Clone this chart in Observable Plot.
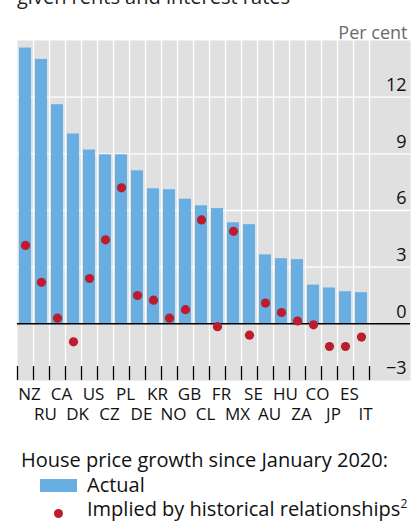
<!DOCTYPE html>
<html>
<head>
<meta charset="utf-8">
<script src="https://cdn.jsdelivr.net/npm/d3@7"></script>
<script src="https://cdn.jsdelivr.net/npm/@observablehq/plot@0.6"></script>
<style>
  html, body { margin: 0; padding: 0; background: #fff; }
  body { width: 412px; height: 523px; overflow: hidden; position: relative; font-family: "Open Sans", "Noto Sans", sans-serif; color: #111; }
  #title { position: absolute; left: 17px; top: -15px; font-size: 20px; line-height: 24px; white-space: nowrap; color: #222; }
  #chart { position: absolute; left: 0; top: 0; }
  #legend { position: absolute; left: 0; top: 0; width: 412px; }
  .lg-head { position: absolute; left: 21px; top: 450px; font-size: 20px; line-height: 20px; white-space: nowrap; }
  .lg-rect { position: absolute; left: 40px; top: 479px; width: 37px; height: 13px; }
  .lg-dot { position: absolute; left: 54px; top: 509px; width: 9px; height: 9px; border-radius: 50%; }
  .lg-t1 { position: absolute; left: 87px; top: 475px; font-size: 20px; line-height: 20px; white-space: nowrap; }
  .lg-t2 { position: absolute; left: 87px; top: 499px; font-size: 20px; line-height: 20px; white-space: nowrap; }
  .lg-t2 sup { font-size: 12px; vertical-align: 8px; line-height: 0; }
</style>
</head>
<body>
<div id="title">given rents and interest rates</div>
<div id="chart"></div>
<div id="legend"></div>
<script>
const countries = ["NZ","RU","CA","DK","US","CZ","PL","DE","KR","NO","GB","CL","FR","MX","SE","AU","HU","ZA","CO","JP","ES","IT"];
const actual = [14.6,14.0,11.6,10.05,9.2,8.95,8.95,8.1,7.15,7.1,6.6,6.25,6.1,5.35,5.25,3.65,3.45,3.4,2.05,1.9,1.7,1.65];
const implied = [4.15,2.2,0.3,-0.95,2.4,4.45,7.2,1.5,1.25,0.3,0.75,5.5,-0.15,4.9,-0.6,1.1,0.6,0.15,-0.05,-1.2,-1.2,-0.7];
const yTicks = [-3,0,3,6,9,12];
const gridValues = [3,6,9,12];
const yDomain = [-3, 15];
const unitLabel = "Per cent";
const legendTitle = "House price growth since January 2020:";
const seriesNames = ["Actual", "Implied by historical relationships"];
const footnoteMark = "2";

const barColor = "#68aee2";
const dotColor = "#bc1c2c";
const bgColor = "#e0e0e0";

const data = countries.map((c, i) => ({country: c, actual: actual[i], implied: implied[i], row: i % 2}));
const row1 = data.filter(d => d.row === 0);
const row2 = data.filter(d => d.row === 1);

const W = 412, H = 430, mL = 17, mR = 2, mT = 40, mB = 50;
const step = 16;
const xRange = [mL, mL + step * countries.length];

const chart = Plot.plot({
  width: W,
  height: H,
  marginLeft: mL,
  marginRight: mR,
  marginTop: mT,
  marginBottom: mB,
  style: {fontFamily: "'Open Sans', 'Noto Sans', sans-serif", background: "transparent", overflow: "visible"},
  x: {type: "band", domain: countries, range: xRange, padding: 0, axis: null},
  y: {domain: yDomain, axis: null},
  marks: [
    Plot.frame({fill: bgColor, stroke: null}),
    Plot.ruleX(countries, {x: d => d, dx: step / 2, stroke: "white", strokeWidth: 1.3}),
    Plot.ruleY(gridValues, {y: d => d, stroke: "white", strokeWidth: 1.3}),
    Plot.barY(data, {x: "country", y: "actual", fill: barColor, insetLeft: 2, insetRight: 2}),
    Plot.ruleY([0], {stroke: "black", strokeWidth: 1.5}),
    Plot.dot(data, {x: "country", y: "implied", r: 4.6, fill: dotColor, stroke: null}),
    Plot.ruleX(countries, {x: d => d, dx: -step / 2, insetTop: 326, stroke: "black", strokeWidth: 1.3}),
    Plot.ruleX(countries.slice(-1), {x: d => d, dx: step / 2, insetTop: 326, stroke: "black", strokeWidth: 1.3}),
    Plot.text(yTicks, {y: d => d, text: d => d < 0 ? "\u2212" + Math.abs(d) : String(d), frameAnchor: "right", dx: -4, dy: -12, textAnchor: "end", fontSize: 18, fill: "#111"}),
    Plot.text([unitLabel], {text: d => d, frameAnchor: "top-right", dx: -3, dy: -14, textAnchor: "end", fontSize: 18, fill: "#6b6b6b"}),
    Plot.text(row1, {x: "country", text: "country", frameAnchor: "bottom", dy: 19, dx: 4, fontSize: 17, fill: "#111"}),
    Plot.text(row2, {x: "country", text: "country", frameAnchor: "bottom", dy: 39, dx: 4, fontSize: 17, fill: "#111"})
  ]
});
document.getElementById("chart").appendChild(chart);

const lg = document.getElementById("legend");
lg.innerHTML = `
  <div class="lg-head"></div>
  <div class="lg-rect" style="background:${barColor}"></div>
  <div class="lg-t1"></div>
  <div class="lg-dot" style="background:${dotColor}"></div>
  <div class="lg-t2"></div>`;
lg.querySelector(".lg-head").textContent = legendTitle;
lg.querySelector(".lg-t1").textContent = seriesNames[0];
const t2 = lg.querySelector(".lg-t2");
t2.textContent = seriesNames[1];
const sup = document.createElement("sup");
sup.textContent = footnoteMark;
t2.appendChild(sup);
</script>
</body>
</html>
